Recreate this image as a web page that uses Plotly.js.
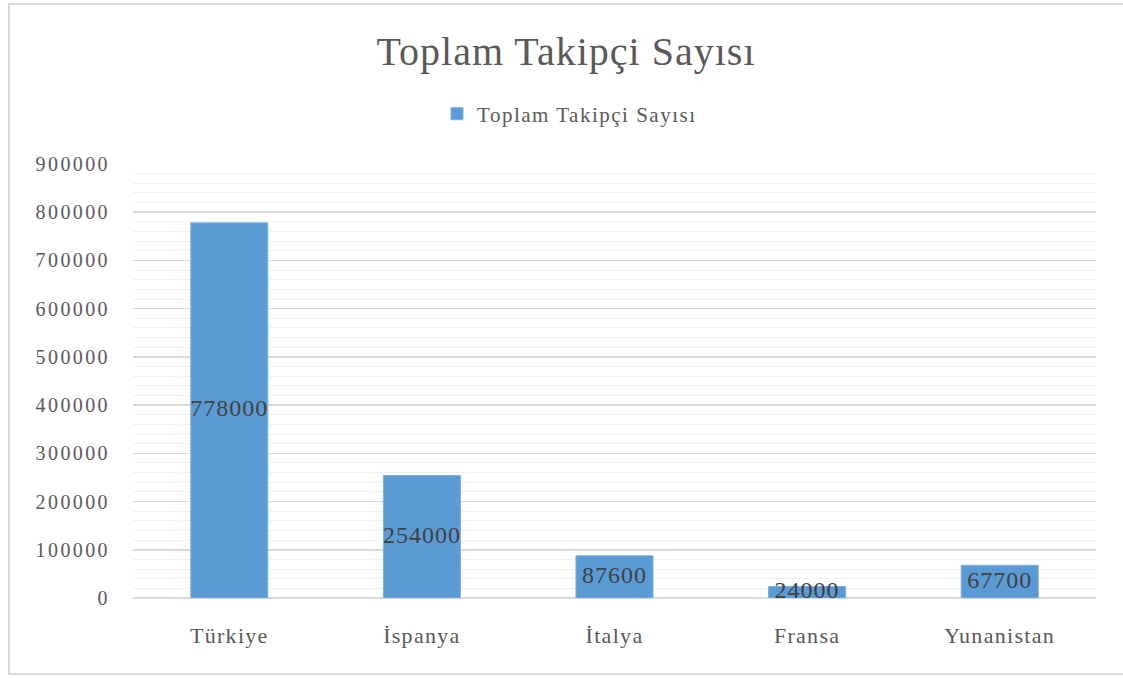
<!DOCTYPE html>
<html>
<head>
<meta charset="utf-8">
<script src="https://cdn.plot.ly/plotly-3.0.1.min.js"></script>
<style>
html,body{margin:0;padding:0;background:#fff;}
#frame{position:absolute;left:8px;top:3px;width:1130px;height:672px;border:2px solid #d9d9d9;box-sizing:border-box;pointer-events:none;z-index:5;}
#chart{position:absolute;left:0;top:0;width:1123px;height:678px;}
#chart .gtitle{letter-spacing:1px;}
#chart .ytick text{letter-spacing:2.4px;}
#chart .xtick text{letter-spacing:1.3px;}
#chart .legendtext{letter-spacing:1.5px;}
#chart .textpoint text{letter-spacing:1px;}
</style>
</head>
<body>
<div id="chart"></div>
<div id="frame"></div>
<script>
const categories = ["Türkiye", "İspanya", "İtalya", "Fransa", "Yunanistan"];
const values = [778000, 254000, 87600, 24000, 67700];
const seriesName = "Toplam Takipçi Sayısı";
const chartTitle = "Toplam Takipçi Sayısı";
const yTicks = [0, 100000, 200000, 300000, 400000, 500000, 600000, 700000, 800000, 900000];

const serif = "Liberation Serif";

const bars = {
  type: "bar",
  x: categories,
  y: values,
  name: seriesName,
  width: 0.4,
  marker: {color: "#5B9BD5", line: {color: "#7fb0dd", width: 1}},
  hoverinfo: "x+y"
};

const labels = {
  type: "scatter",
  mode: "text",
  x: categories,
  y: values.map(v => v / 2),
  text: values.map(v => String(v)),
  textfont: {family: serif, size: 24, color: "#404040"},
  textposition: "middle center",
  showlegend: false,
  hoverinfo: "skip",
  cliponaxis: false
};

const layout = {
  width: 1123,
  height: 678,
  margin: {l: 133, r: 27, t: 164, b: 80},
  paper_bgcolor: "#ffffff",
  plot_bgcolor: "#ffffff",
  font: {family: serif, color: "#595959"},
  title: {
    text: chartTitle,
    font: {family: serif, size: 40, color: "#595959"},
    x: 0.504, xanchor: "center",
    y: 0.925, yanchor: "middle"
  },
  showlegend: true,
  legend: {
    orientation: "h",
    x: 0.3157, xanchor: "left",
    y: 1.115, yanchor: "middle",
    font: {family: serif, size: 21, color: "#595959"},
    itemwidth: 30,
    entrywidth: 290,
    entrywidthmode: "pixels"
  },
  xaxis: {
    type: "category",
    tickfont: {family: serif, size: 22, color: "#595959"},
    showgrid: false,
    showline: false,
    zeroline: false,
    ticks: "",
    ticklen: 0,
    ticklabelstandoff: 22
  },
  yaxis: {
    range: [0, 900000],
    tickvals: yTicks,
    ticktext: yTicks.map(v => String(v)),
    tickfont: {family: serif, size: 20, color: "#595959"},
    gridcolor: "#d9d9d9",
    gridwidth: 1.5,
    zeroline: true,
    zerolinecolor: "#d9d9d9",
    zerolinewidth: 2,
    showline: false,
    ticks: "",
    ticklabelstandoff: 22,
    minor: {dtick: 20000, showgrid: true, gridcolor: "#f0f0f0", gridwidth: 1},
    fixedrange: true
  },
  bargap: 0.6
};

Plotly.newPlot("chart", [bars, labels], layout, {displayModeBar: false, staticPlot: true});
</script>
</body>
</html>
